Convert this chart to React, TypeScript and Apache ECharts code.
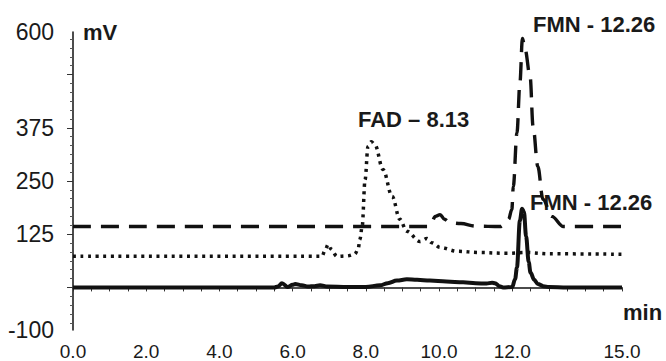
import React, { useEffect, useRef } from "react";
import * as echarts from "echarts";

// Retention time (min) / signal (mV) for each trace
const solidTime = [0, 5.5, 5.6, 5.71, 5.87, 6.0, 6.07, 6.25, 6.42, 6.6, 6.75, 6.95, 7.5, 8.0, 8.39, 8.6, 8.85, 9.12, 9.4, 9.75, 10.2, 10.66, 11.0, 11.3, 11.45, 11.53, 11.65, 11.75, 12.0, 12.08, 12.13, 12.21, 12.27, 12.32, 12.38, 12.45, 12.5, 12.6, 12.7, 12.85, 13.0, 13.5, 15];
const solidValue = [0, 0, 2, 10, 1, 6, 8, 5, 2, 3, 5, 2, 1, 1, 5, 10, 16, 19, 18, 16, 14, 12, 10, 9, 11, 10, 3, 0, 1, 20, 47, 157, 185, 178, 120, 60, 35, 18, 8, 3, 1, 0, 0];

const dottedTime = [0, 6.8, 6.9, 6.97, 7.05, 7.21, 7.49, 7.7, 7.79, 7.84, 7.9, 7.98, 8.06, 8.15, 8.25, 8.47, 8.72, 8.93, 9.12, 9.48, 9.67, 9.8, 10.03, 10.5, 11.1, 11.85, 12.4, 13.0, 15];
const dottedValue = [73, 73, 90, 101, 90, 73, 74, 78, 90, 113, 143, 253, 331, 342, 335, 277, 214, 160, 132, 108, 115, 105, 94, 85, 82, 80, 82, 79, 78];

const dashedTime = [0, 9.7, 9.78, 9.9, 10.03, 10.15, 10.3, 10.6, 11.0, 11.67, 11.9, 11.99, 12.03, 12.13, 12.21, 12.28, 12.35, 12.49, 12.57, 12.7, 12.84, 13.08, 13.4, 15];
const dashedValue = [143, 143, 150, 167, 171, 160, 152, 150, 144, 143, 160, 183, 237, 363, 480, 585, 560, 495, 378, 284, 207, 167, 143, 143];

const xLabelValues = [0, 2, 4, 6, 8, 10, 12, 15];
const yLabelValues = [-100, 125, 250, 375, 600];
const yMajorTicks = [0, 125, 250, 375, 500];

const annotations = [
  { text: "FMN - 12.26", x: 533, y: 24 },
  { text: "FAD – 8.13", x: 358, y: 119 },
  { text: "FMN - 12.26", x: 530, y: 202 },
  { text: "mV", x: 83, y: 32 },
  { text: "min", x: 623, y: 312 },
];

const zip = (t: number[], v: number[]) => t.map((x, i) => [x, v[i]]);

export default function App() {
  const ref = useRef<HTMLDivElement>(null);
  useEffect(() => {
    if (!ref.current) return;
    const chart = echarts.init(ref.current, null, { renderer: "svg" });
    const minorTicks: number[] = [];
    for (let k = -4; k <= 28; k++) minorTicks.push((k * 125) / 6);
    const labelFont = "'Liberation Sans', Arial, sans-serif";
    const baseSeries = {
      type: "line" as const,
      showSymbol: false,
      smooth: 0.35,
      smoothMonotone: "x" as const,
      silent: true,
    };
    chart.setOption({
      animation: false,
      backgroundColor: "#ffffff",
      grid: { left: 73, right: 44, top: 32, bottom: 30, containLabel: false },
      xAxis: {
        type: "value",
        min: 0,
        max: 15,
        interval: 0.5,
        axisLine: { show: true, lineStyle: { color: "#111", width: 1.5 } },
        axisTick: { show: true, length: 4, lineStyle: { color: "#333", width: 1 } },
        axisLabel: {
          customValues: xLabelValues,
          formatter: (v: number) => v.toFixed(1),
          fontFamily: labelFont,
          fontSize: 19,
          color: "#1a1a1a",
          margin: 12,
        },
        splitLine: { show: false },
      },
      yAxis: [
        {
          type: "value",
          min: -100,
          max: 600,
          axisLine: { show: true, lineStyle: { color: "#111", width: 1.5 } },
          axisTick: { show: true, customValues: minorTicks, length: 3, lineStyle: { color: "#555", width: 1 } },
          axisLabel: {
            customValues: yLabelValues,
            formatter: (v: number) => String(v),
            fontFamily: labelFont,
            fontSize: 23,
            color: "#1a1a1a",
            margin: 19,
          },
          splitLine: { show: false },
        },
        {
          type: "value",
          min: -100,
          max: 600,
          position: "left",
          axisLine: { show: false },
          axisTick: { show: true, customValues: yMajorTicks, length: 6, lineStyle: { color: "#333", width: 1 } },
          axisLabel: { show: false },
          splitLine: { show: false },
        },
      ],
      series: [
        {
          ...baseSeries,
          name: "solid",
          data: zip(solidTime, solidValue),
          lineStyle: { color: "#111", width: 4, type: "solid" },
        },
        {
          ...baseSeries,
          name: "dotted",
          data: zip(dottedTime, dottedValue),
          lineStyle: { color: "#111", width: 3.5, type: [3, 4.6] },
        },
        {
          ...baseSeries,
          name: "dashed",
          data: zip(dashedTime, dashedValue),
          lineStyle: { color: "#111", width: 3.4, type: [18, 10] },
        },
      ],
      graphic: annotations.map((a) => ({
        type: "text",
        x: a.x,
        y: a.y,
        silent: true,
        style: {
          text: a.text,
          fill: "#1a1a1a",
          font: `bold 22px ${labelFont}`,
          textAlign: "left",
          textVerticalAlign: "middle",
        },
      })),
    });
    return () => chart.dispose();
  }, []);
  return <div ref={ref} style={{ width: 666, height: 361, position: "absolute", left: 0, top: 0 }} />;
}
